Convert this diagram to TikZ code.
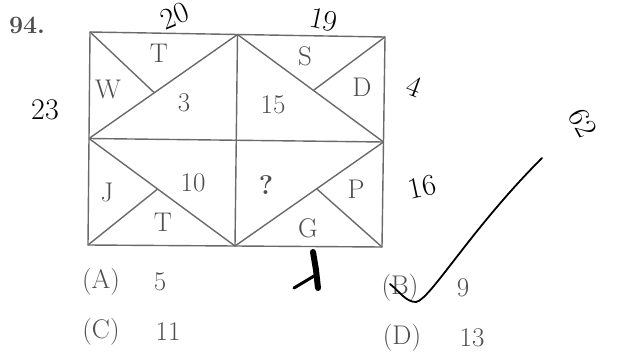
\documentclass[tikz,border=0pt]{standalone}
\usetikzlibrary{calc}
\definecolor{printgray}{HTML}{4E4E4E}
\definecolor{rulegray}{HTML}{6A6A6A}
\begin{document}
\begin{tikzpicture}[x=1pt,y=-1pt,font=\fontsize{27}{30}\selectfont,
  lbl/.style={text=printgray,inner sep=0pt},
  rule/.style={draw=rulegray,line width=1.4pt},
  pen/.style={text=black,inner sep=0pt,font=\fontsize{30}{32}\selectfont},
  ink/.style={draw=black,line width=2.2pt,line cap=round,line join=round}]
\useasboundingbox (0,0) rectangle (619,356);
% outer frame
\coordinate (A) at (90,32);
\coordinate (B) at (385,37);
\coordinate (C) at (382,247);
\coordinate (D) at (88,245);
\coordinate (tm) at ($(A)!0.5!(B)$);
\coordinate (bm) at ($(D)!0.5!(C)$);
\coordinate (lm) at ($(A)!0.5!(D)$);
\coordinate (rm) at ($(B)!0.5!(C)$);
\coordinate (ctr) at ($(tm)!0.5!(bm)$);
\draw[rule] (A) -- (B) -- (C) -- (D) -- cycle;
\draw[rule] (tm) -- (bm) (lm) -- (rm);
% diagonals of the four cells
\draw[rule] (lm) -- (tm) (tm) -- (rm) (lm) -- (bm) (bm) -- (rm);
\coordinate (p1) at ($(lm)!0.44!(tm)$);
\coordinate (p2) at ($(tm)!0.52!(rm)$);
\coordinate (p3) at ($(lm)!0.47!(bm)$);
\coordinate (p4) at ($(bm)!0.55!(rm)$);
\draw[rule] (A) -- (p1) (B) -- (p2) (D) -- (p3) (C) -- (p4);
% letters and numbers
\foreach \n/\x/\y/\t in {t1/159/53/T,w/108/89/W,n3/184/103/3,s/305/56/S,d/362/87/D,
  n15/273/105/15,j/107/192/J,n10/193/183/10,t2/163/222/T,p/356/189/P,g/308/228/G}
  \node[lbl] (\n) at (\x,\y) {\t};
\node[lbl,font=\fontsize{27}{30}\selectfont\bfseries] (q) at (266,185) {?};
\node[lbl,font=\fontsize{25}{28}\selectfont\bfseries] (qno) at (27,25) {94.};
% options
\node[lbl] (oa) at (101,282) {(A)};
\node[lbl] (va) at (160,282) {5};
\node[lbl] (oc) at (101,332) {(C)};
\node[lbl] (vc) at (168,332) {11};
\node[lbl] (ob) at (400,288) {(B)};
\node[lbl] (vb) at (463,288) {9};
\node[lbl] (od) at (402,338) {(D)};
\node[lbl] (vd) at (472,338) {13};
% handwriting
\node[pen,rotate=22] (h20) at (175,16) {20};
\node[pen,rotate=-12] (h19) at (324,20) {19};
\node[pen] (h23) at (45,110) {23};
\node[pen,rotate=-20] (h4) at (414,86) {4};
\node[pen,rotate=12] (h16) at (422,187) {16};
\node[pen,rotate=-62] (h62) at (583,123) {62};
\draw[ink,line width=1.8pt] (390,284) .. controls (400,292) and (406,302) .. (416,302)
  .. controls (430,300) and (470,230) .. (542,158);
\draw[ink,line width=6pt] (313,252) -- (316,270) -- (318,288);
\draw[ink,line width=3pt] (294,288) -- (314,276);
\end{tikzpicture}
\end{document}
